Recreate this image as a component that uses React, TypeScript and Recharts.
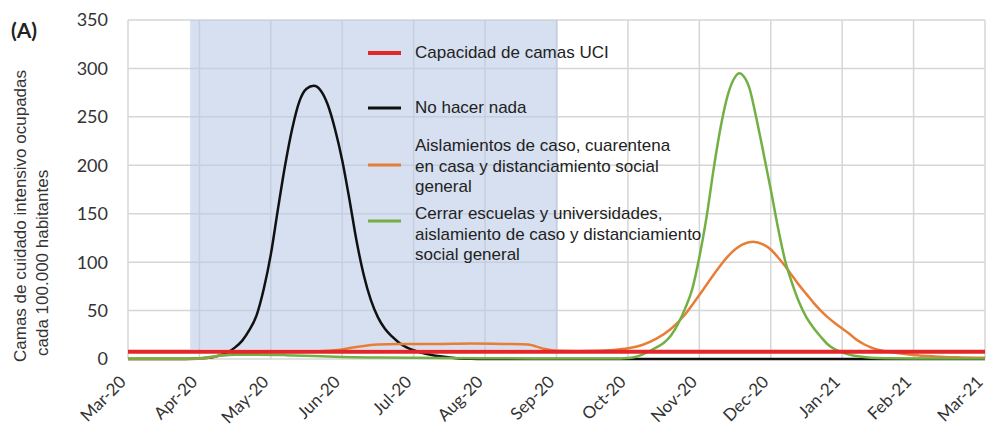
import { LineChart, Line, XAxis, YAxis, CartesianGrid, ReferenceArea } from 'recharts';

// month labels, tick i = months since Mar-20
const monthLabels = [
  'Mar-20', 'Apr-20', 'May-20', 'Jun-20', 'Jul-20', 'Aug-20', 'Sep-20',
  'Oct-20', 'Nov-20', 'Dec-20', 'Jan-21', 'Feb-21', 'Mar-21',
];
const monthTicks = [0, 1, 2, 3, 4, 5, 6, 7, 8, 9, 10, 11, 12];
const yTicks = [0, 50, 100, 150, 200, 250, 300, 350];

// intervention period (shaded), in months since Mar-20
const shadeStart = 0.87;
const shadeEnd = 6.02;

// ICU capacity
const capacityX = [0, 12];
const capacityY = [7.5, 7.5];

// do nothing
const blackX = [0, 0.8, 1.0, 1.2, 1.3, 1.4, 1.5, 1.6, 1.7, 1.8, 1.9, 2.0, 2.1, 2.2, 2.3, 2.4, 2.5, 2.6, 2.7, 2.8, 2.9, 3.0, 3.1, 3.2, 3.3, 3.4, 3.5, 3.6, 3.7, 3.8, 3.9, 4.0, 4.2, 4.4, 4.6, 4.8, 5.0, 12];
const blackY = [0, 0, 0.5, 2, 4, 7, 12, 19, 30, 45, 72, 108, 155, 200, 238, 266, 279, 282, 277, 262, 237, 205, 165, 122, 87, 61, 43, 31, 23, 16.5, 12, 9, 5, 2.5, 0.8, 0.2, 0, 0];

// case isolation, home quarantine, social distancing
const orangeX = [0, 0.9, 1.1, 1.3, 1.6, 2.0, 2.5, 2.9, 3.2, 3.5, 3.8, 4.3, 4.8, 5.3, 5.6, 5.8, 6.0, 6.3, 6.6, 6.8, 7.0, 7.2, 7.4, 7.6, 7.8, 8.0, 8.2, 8.4, 8.6, 8.75, 8.9, 9.0, 9.1, 9.2, 9.3, 9.4, 9.5, 9.6, 9.7, 9.8, 9.9, 10.0, 10.1, 10.2, 10.3, 10.4, 10.5, 10.65, 10.8, 11.0, 11.3, 11.6, 12];
const orangeY = [0, 0, 1, 3.5, 6, 7, 7.5, 9, 12.5, 15, 15.5, 15.5, 16, 15.5, 15, 11, 8.5, 8, 8.5, 9.3, 11, 14.5, 21, 31, 46, 66, 87, 106, 118, 121, 118, 113, 105, 96, 86, 76, 67, 58, 50, 43, 37, 31.5, 26, 20, 15.5, 12, 9.5, 7.5, 6, 4.2, 2.7, 1.8, 1.2];

// schools closed + isolation + distancing
const greenX = [0, 0.9, 1.1, 1.3, 1.5, 1.8, 2.2, 2.6, 3.0, 3.5, 4.0, 5.0, 6.0, 6.9, 7.0, 7.1, 7.2, 7.3, 7.4, 7.5, 7.6, 7.7, 7.8, 7.9, 8.0, 8.1, 8.2, 8.3, 8.4, 8.5, 8.56, 8.62, 8.7, 8.8, 8.9, 9.0, 9.1, 9.2, 9.3, 9.4, 9.5, 9.6, 9.7, 9.8, 9.9, 10.0, 10.1, 10.2, 10.4, 10.6, 11, 12];
const greenY = [0.5, 0.5, 1.5, 3.5, 4.5, 4.5, 4, 3, 2, 1.5, 1.2, 0.8, 0.5, 0.5, 1, 2, 4.5, 8, 12, 16.5, 24, 36, 52, 72, 105, 146, 196, 240, 273, 291, 295, 292, 280, 248, 212, 175, 136, 102, 78, 58, 43, 32, 23, 15, 10, 7, 4.5, 3, 1.2, 0.7, 0.5, 0.5];

const legendCapacity = ['Capacidad de camas UCI'];
const legendBlack = ['No hacer nada'];
const legendOrange = ['Aislamientos de caso, cuarentena', 'en casa y distanciamiento social', 'general'];
const legendGreen = ['Cerrar escuelas y universidades,', 'aislamiento de caso y distanciamiento', 'social general'];

const RED = '#e2262a';
const BLACK = '#111111';
const ORANGE = '#e87d35';
const GREEN = '#72b043';

const toPoints = (xs: number[], ys: number[]) => xs.map((m, i) => ({ m, v: ys[i] }));

function MonthTick({ x, y, payload }: any) {
  return (
    <g transform={`translate(${x - 1},${y + 16})`}>
      <text transform="rotate(-45)" textAnchor="end" fontSize={17} fill="#333" fontFamily="Lato, sans-serif">
        {monthLabels[payload.value]}
      </text>
    </g>
  );
}

const legendBlocks = [
  { color: RED, lines: legendCapacity, sampleY: 53, firstBaseline: 58, width: 4 },
  { color: BLACK, lines: legendBlack, sampleY: 108, firstBaseline: 113, width: 3 },
  { color: ORANGE, lines: legendOrange, sampleY: 165, firstBaseline: 151, width: 3 },
  { color: GREEN, lines: legendGreen, sampleY: 221, firstBaseline: 219, width: 3 },
];

export default function App() {
  return (
    <div style={{ position: 'absolute', left: 0, top: 0, width: 986, height: 424, background: '#fff' }}>
      <LineChart width={986} height={424} margin={{ top: 20, right: 1, bottom: 0, left: 0 }}>
        <CartesianGrid stroke="#d6d6d6" strokeWidth={1.5} />
        <XAxis
          type="number"
          dataKey="m"
          domain={[0, 12]}
          ticks={monthTicks}
          height={65}
          axisLine={false}
          tickLine={false}
          tick={<MonthTick />}
          interval={0}
        />
        <YAxis
          type="number"
          domain={[0, 350]}
          ticks={yTicks}
          width={128}
          axisLine={false}
          tickLine={false}
          tickMargin={14}
          tick={{ fontSize: 18, fill: '#333', fontFamily: 'Lato, sans-serif' }}
        />
        <ReferenceArea x1={shadeStart} x2={shadeEnd} y1={10} y2={350} fill="#b8c9e6" fillOpacity={0.58} stroke="none" />
        <Line data={toPoints(blackX, blackY)} dataKey="v" type="monotone" stroke={BLACK} strokeWidth={2.5} dot={false} isAnimationActive={false} />
        <Line data={toPoints(orangeX, orangeY)} dataKey="v" type="monotone" stroke={ORANGE} strokeWidth={2.5} dot={false} isAnimationActive={false} />
        <Line data={toPoints(greenX, greenY)} dataKey="v" type="monotone" stroke={GREEN} strokeWidth={2.5} dot={false} isAnimationActive={false} />
        <Line data={toPoints(capacityX, capacityY)} dataKey="v" type="linear" stroke={RED} strokeWidth={4} dot={false} isAnimationActive={false} />
      </LineChart>
      <svg width={986} height={424} style={{ position: 'absolute', left: 0, top: 0, pointerEvents: 'none' }}>
        <text x={11} y={38} fontSize={21} fontWeight="bold" fill="#222" fontFamily="Lato, sans-serif">(A)</text>
        <text transform="translate(26,362) rotate(-90)" fontSize={17} fill="#333" fontFamily="'Liberation Sans', Arial, sans-serif">
          Camas de cuidado intensivo ocupadas
        </text>
        <text transform="translate(48,356) rotate(-90)" fontSize={17} fill="#333" fontFamily="'Liberation Sans', Arial, sans-serif">
          cada 100.000 habitantes
        </text>
        {legendBlocks.map((b, i) => (
          <g key={i}>
            <line x1={368} x2={401} y1={b.sampleY} y2={b.sampleY} stroke={b.color} strokeWidth={b.width} />
            {b.lines.map((t, j) => (
              <text key={j} x={415} y={b.firstBaseline + j * 20.5} fontSize={17} fill="#222" fontFamily="'Liberation Sans', Arial, sans-serif">
                {t}
              </text>
            ))}
          </g>
        ))}
      </svg>
    </div>
  );
}
